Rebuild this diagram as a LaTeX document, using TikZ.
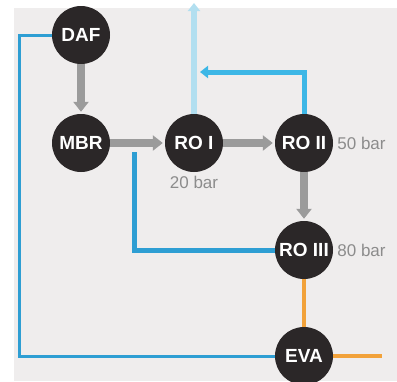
\documentclass[tikz,border=0pt]{standalone}
\usepackage{fontspec}
\setmainfont{Liberation Sans}
\usetikzlibrary{positioning,arrows.meta}

\definecolor{panel}{HTML}{EFEDED}
\definecolor{unitfill}{HTML}{2B2728}
\definecolor{feedgrey}{HTML}{9B9B9B}
\definecolor{brineblue}{HTML}{2E9ED3}
\definecolor{permblue}{HTML}{3DB7E6}
\definecolor{paleblue}{HTML}{B2DFF0}
\definecolor{heatorange}{HTML}{F2A23A}
\definecolor{bargrey}{HTML}{8C8C8C}

\begin{document}
\begin{tikzpicture}[
x=1pt, y=1pt,
on grid,
unit/.style={
circle,
fill=unitfill,
minimum size=58pt,
inner sep=0pt,
text=white,
font=\fontsize{19}{19}\selectfont\bfseries
},
pressure/.style={
text=bargrey,
inner sep=1pt,
font=\fontsize{17}{17}\selectfont
},
feed/.style={
draw=feedgrey,
line width=8pt,
-{Triangle[width=15pt,length=10pt]},
shorten >=2pt
},
brine/.style={draw=brineblue, line width=5pt},
bypassline/.style={draw=brineblue, line width=3pt},
perm/.style={draw=permblue, line width=5pt, -{Triangle[width=12pt,length=8pt]}},
vent/.style={draw=paleblue, line width=6pt, -{Triangle[width=12pt,length=8pt]}},
heat/.style={draw=heatorange, line width=4pt}
]

\useasboundingbox (0,0) rectangle (397,-381);
\fill[panel] (14,-8) rectangle (397,-381);

\node[unit] (daf) at (81,-35) {DAF};
\node[unit,below=108pt of daf] (mbr) {MBR};
\node[unit,right=113pt of mbr] (roi) {RO I};
\node[unit,right=110pt of roi] (roii) {RO II};
\node[unit,below=107pt of roii] (roiii) {RO III};
\node[unit,below=106pt of roiii] (eva) {EVA};

\node[pressure,below=39pt of roi] (p1) {20 bar};
\node[pressure,anchor=west] (p2) at ([xshift=3pt]roii.east) {50 bar};
\node[pressure,anchor=west] (p3) at ([xshift=3pt]roiii.east) {80 bar};

\coordinate (bypass) at (19,-35);
\coordinate (top) at (194,-3);
\coordinate (recirc) at (200,-72);
\coordinate (loopend) at (134,-152);
\coordinate (out) at (382,-356);

% blue and orange lines
\draw[bypassline] (daf.west) -- (bypass) |- (eva.west);
\draw[vent] (roi.north) -- (top);
\draw[perm] (roii.north) |- (recirc);
\draw[brine] (roiii.west) -| (loopend);
\draw[heat] (roiii) -- (eva);
\draw[heat] (eva.east) -- (out);

% grey main stream
\draw[feed] (daf) -- (mbr);
\draw[feed] (mbr) -- (roi);
\draw[feed] (roi) -- (roii);
\draw[feed] (roii) -- (roiii);

\end{tikzpicture}
\end{document}
